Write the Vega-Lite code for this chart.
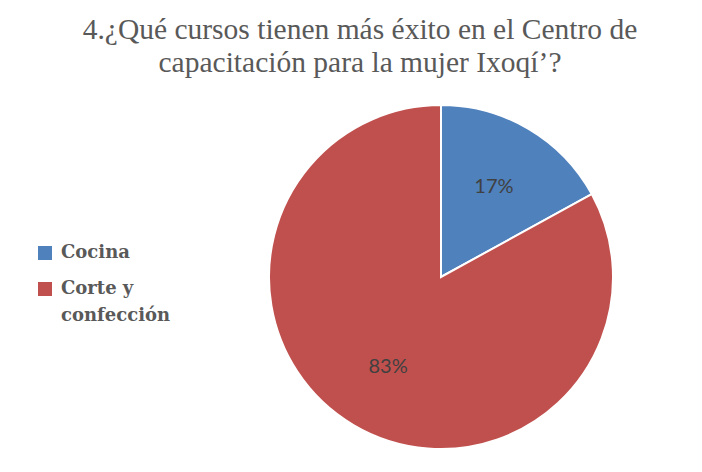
{
  "$schema": "https://vega.github.io/schema/vega-lite/v6.json",
  "autosize": "none",
  "width": 344,
  "height": 344,
  "padding": {"left": 269, "top": 105, "right": 89, "bottom": 23},
  "background": "white",
  "title": {
    "text": ["4.¿Qué cursos tienen más éxito en el  Centro de", "capacitación para la mujer Ixoqí’?"],
    "font": "Liberation Serif",
    "fontSize": 29.5,
    "fontWeight": "normal",
    "color": "#595959",
    "lineHeight": 33,
    "anchor": "middle",
    "dx": -81,
    "offset": 23
  },
  "data": {"values": [
    {"curso": "Cocina", "pct": 17, "etiqueta": "17%"},
    {"curso": "Corte y confección", "pct": 83, "etiqueta": "83%"}
  ]},
  "config": {
    "view": {"stroke": null},
    "title": {"font": "Liberation Serif", "fontWeight": "normal"},
    "style": {"guide-label": {"lineHeight": 27}}
  },
  "encoding": {
    "theta": {"field": "pct", "type": "quantitative", "stack": true},
    "order": {"field": "pct", "type": "quantitative", "sort": "ascending"},
    "color": {
      "field": "curso", "type": "nominal",
      "scale": {"domain": ["Cocina", "Corte y confección"], "range": ["#4F81BD", "#C0504D"]},
      "legend": {
        "title": null,
        "orient": "none",
        "legendX": -233,
        "legendY": 139,
        "symbolType": "square",
        "symbolSize": 196,
        "symbolStrokeWidth": 0,
        "symbolOpacity": 1,
        "labelFont": "DejaVu Serif",
        "labelFontSize": 18,
        "labelFontWeight": "bold",
        "labelColor": "#595959",
        "labelLimit": 200,
        "labelOffset": 7,
        "rowPadding": 18,
        "labelExpr": "datum.label == 'Corte y confección' ? ['Corte y', 'confección'] : datum.label"
      }
    }
  },
  "layer": [
    {"mark": {"type": "arc", "outerRadius": 172, "stroke": "white", "strokeWidth": 2}},
    {
      "mark": {"type": "text", "radius": 104, "font": "Lato", "fontSize": 20},
      "encoding": {"text": {"field": "etiqueta", "type": "nominal"}, "color": {"value": "#404040"}}
    }
  ]
}
